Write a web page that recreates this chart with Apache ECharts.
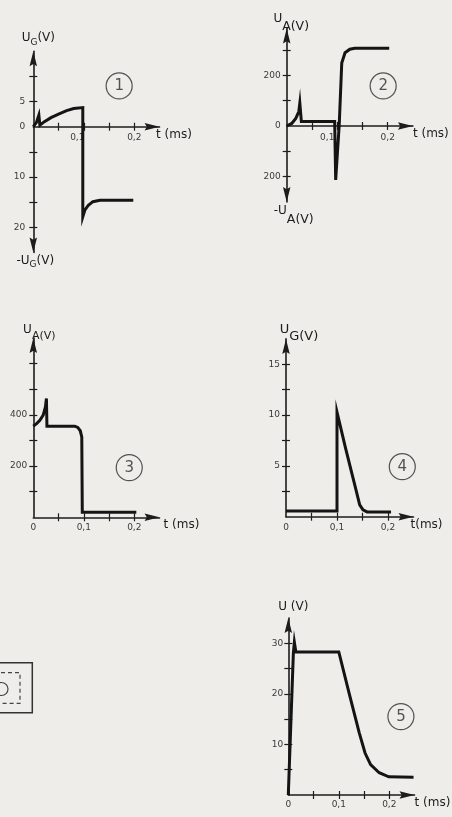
<!DOCTYPE html>
<html><head><meta charset="utf-8">
<script src="https://cdn.jsdelivr.net/npm/echarts@6/dist/echarts.min.js"></script>
<style>html,body{margin:0;padding:0;background:#eeede9;}#c{width:452px;height:817px;}</style>
</head><body><div id="c"></div><script>
// ---- data (time in ms, voltage in V) ----
const plot1Time = [0, 0.006, 0.011, 0.013, 0.022, 0.035, 0.05, 0.066, 0.08, 0.098, 0.098, 0.102, 0.109, 0.118, 0.132, 0.198];
const plot1Volt = [0, 0.8, 2.3, 0.3, 1.0, 1.8, 2.5, 3.2, 3.6, 3.8, -17.9, -16.6, -15.6, -14.9, -14.6, -14.6];
const plot2Time = [0, 0.01, 0.018, 0.024, 0.026, 0.029, 0.095, 0.097, 0.099, 0.104, 0.109, 0.1155, 0.125, 0.135, 0.203];
const plot2Volt = [0, 10, 30, 57, 90, 18, 18, -213, -213, 4, 248, 289, 303, 307, 307];
const plot3Time = [0, 0.0065, 0.013, 0.0196, 0.024, 0.026, 0.027, 0.082, 0.088, 0.093, 0.096, 0.097, 0.204];
const plot3Volt = [356, 366, 379, 399, 431, 464, 356, 356, 351, 338, 314, 19.5, 19.5];
const plot4Time = [0, 0.1, 0.1, 0.117, 0.137, 0.1445, 0.151, 0.159, 0.206];
const plot4Volt = [0.55, 0.55, 10.3, 6.7, 2.7, 1.17, 0.67, 0.47, 0.47];
const plot5Time = [0, 0.01, 0.012, 0.015, 0.1, 0.121, 0.1405, 0.152, 0.163, 0.18, 0.199, 0.248];
const plot5Volt = [0, 28, 30.2, 28.3, 28.3, 19.9, 12.3, 8.3, 6.0, 4.4, 3.6, 3.5];

const timeTicks = [0.05, 0.1, 0.15, 0.2];
const timeLabelsTop = [0.1, 0.2];
const timeLabelsBottom = [0, 0.1, 0.2];
const plot1YTicks = [-20, -15, -10, -5, 5, 10];
const plot1YLabels = [5, 0, -10, -20];
const plot2YTicks = [-200, -100, 100, 200, 300];
const plot2YLabels = [200, 0, -200];
const plot3YTicks = [100, 200, 300, 400, 500, 600];
const plot3YLabels = [200, 400];
const plot4YTicks = [2.5, 5, 7.5, 10, 12.5, 15];
const plot4YLabels = [5, 10, 15];
const plot5YTicks = [5, 10, 15, 20, 25, 30];
const plot5YLabels = [10, 20, 30];

const circleLabels = ['1', '2', '3', '4', '5'];
const circleTime = [0.17, 0.191, 0.19, 0.228, 0.223];
const circleVolt = [8.1, 158, 194, 4.92, 15.5];

// ---- layout ----
const INK = '#1c1c1c';
const FONT = 'DejaVu Sans';
const ARROW = 'path://M5,0 L10,20 L5,17 L0,20 Z';
const plots = [
  { time: plot1Time, volt: plot1Volt, yTicks: plot1YTicks, yLabels: plot1YLabels, xLabels: timeLabelsTop,
    grid: { left: 33.3, top: 51.2, width: 126.25, height: 201.3 }, yMin: -25, yMax: 15, yInt: 5, both: true,
    yLabM: 8, xLabM: 6.5, tGap: -3.5, uSize: 12, sSize: 9, sPad: 6, firstShift: 13,
    topName: '{u|U}{s|G}{u|(V)}', topGap: 5, topPad: 10,
    botName: '{u|-U}{s|G}{u|(V)}', botGap: 2, botPad: 4 },
  { time: plot2Time, volt: plot2Volt, yTicks: plot2YTicks, yLabels: plot2YLabels, xLabels: timeLabelsTop,
    grid: { left: 286.7, top: 28.4, width: 126.25, height: 173.6 }, yMin: -300, yMax: 385, yInt: 100, both: true,
    yLabM: 6, xLabM: 7, tGap: 0, uSize: 12, sSize: 12.5, sPad: 8, firstShift: 20,
    topName: '{u|U}{s|A(V)}', topGap: 2, topPad: 9,
    botName: '{u|-U}{s|A(V)}', botGap: 3, botPad: 14 },
  { time: plot3Time, volt: plot3Volt, yTicks: plot3YTicks, yLabels: plot3YLabels, xLabels: timeLabelsBottom,
    grid: { left: 33.3, top: 338.1, width: 126.25, height: 179.2 }, yMin: 0, yMax: 700, yInt: 100, both: false,
    yLabM: 6, xLabM: 6, tGap: 4, uSize: 12, sSize: 11, sPad: 7, firstShift: 0,
    topName: '{u|U}{s|A(V)}', topGap: 0, topPad: 12 },
  { time: plot4Time, volt: plot4Volt, yTicks: plot4YTicks, yLabels: plot4YLabels, xLabels: timeLabelsBottom,
    grid: { left: 286, top: 338.9, width: 127.5, height: 177.8 }, yMin: 0, yMax: 17.5, yInt: 2.5, both: false,
    yLabM: 6, xLabM: 6.5, tGap: -3, tName: 't(ms)', uSize: 13, sSize: 13, sPad: 7, firstShift: 0,
    topName: '{u|U}{s|G(V)}', topGap: 1, topPad: 26 },
  { time: plot5Time, volt: plot5Volt, yTicks: plot5YTicks, yLabels: plot5YLabels, xLabels: timeLabelsBottom,
    grid: { left: 288.3, top: 618, width: 126.25, height: 177 }, yMin: 0, yMax: 35, yInt: 5, both: false,
    yLabM: 5, xLabM: 5, tGap: 0, uSize: 12, sSize: 11, sPad: 6, firstShift: 0,
    topName: '{u|U (V)}', topGap: 3, topPad: 10 }
];

function makeRich(p) {
  return {
    u: { fontSize: p.uSize, lineHeight: p.uSize + 2, verticalAlign: 'top', fontFamily: FONT, color: INK },
    s: { fontSize: p.sSize, lineHeight: p.sSize + 1, verticalAlign: 'top', padding: [p.sPad, 0, 0, 0], fontFamily: FONT, color: INK }
  };
}

const fmtNum = v => v === 0 ? '0' : v.toFixed(1).replace('.', ',');
const grids = [], xAxes = [], yAxes = [], series = [];
const lineStyleAxis = { color: INK, width: 1.6 };
const tickStyle = { color: INK, width: 1.2 };
const labelStyle = { fontSize: 9, color: '#3a3a3a', fontFamily: FONT };

plots.forEach((p, i) => {
  grids.push(Object.assign({ containLabel: false }, p.grid));
  const rich = makeRich(p);
  // x labels sit on the zero line: shift them up from the grid's bottom edge
  const zeroFromBottom = p.grid.height * (0 - p.yMin) / (p.yMax - p.yMin);
  const xBase = {
    type: 'value', gridIndex: i, min: 0, max: 0.25, interval: 0.05, position: 'bottom',
    splitLine: { show: false }
  };
  xAxes.push(Object.assign({}, xBase, {
    axisLine: { show: true, onZero: true, lineStyle: lineStyleAxis, symbol: ['none', ARROW], symbolSize: [8, 15], symbolOffset: [0, -7.5] },
    axisTick: { show: true, inside: false, length: 4, lineStyle: tickStyle, customValues: timeTicks },
    axisLabel: Object.assign({ show: true, margin: p.xLabM - zeroFromBottom, customValues: p.xLabels,
      formatter: v => (Math.abs(v - 0.1) < 1e-9 && p.firstShift) ? '{l|' + fmtNum(v) + '}' : fmtNum(v),
      rich: { l: Object.assign({ padding: [0, p.firstShift, 0, 0] }, labelStyle) } }, labelStyle),
    name: p.tName || 't (ms)', nameLocation: 'end', nameGap: p.tGap,
    nameTextStyle: { fontSize: 12, color: INK, fontFamily: FONT, align: 'left', verticalAlign: 'top', padding: [2, 0, 0, 0] }
  }));
  xAxes.push(Object.assign({}, xBase, {
    axisLine: { show: false, onZero: true },
    axisTick: { show: true, inside: true, length: 4, lineStyle: tickStyle, customValues: timeTicks },
    axisLabel: { show: false }
  }));
  const yBase = {
    type: 'value', gridIndex: i, min: p.yMin, max: p.yMax, interval: p.yInt, position: 'left',
    splitLine: { show: false }
  };
  const tipOff = p.both ? [7.5, -7.5] : [0, -7.5];
  yAxes.push(Object.assign({}, yBase, {
    axisLine: { show: true, onZero: true, lineStyle: lineStyleAxis, symbol: [p.both ? ARROW : 'none', ARROW], symbolSize: [8, 15], symbolOffset: tipOff },
    axisTick: { show: true, inside: false, length: 4, lineStyle: tickStyle, customValues: p.yTicks },
    axisLabel: Object.assign({ show: true, margin: p.yLabM, customValues: p.yLabels, formatter: v => String(Math.abs(v)) }, labelStyle),
    name: p.topName, nameLocation: 'end', nameGap: p.topGap,
    nameTextStyle: { rich: rich, align: 'center', verticalAlign: 'bottom', padding: [0, 0, 0, p.topPad] }
  }));
  yAxes.push(Object.assign({}, yBase, {
    axisLine: { show: false, onZero: true },
    axisTick: { show: true, inside: true, length: 4, lineStyle: tickStyle, customValues: p.yTicks },
    axisLabel: { show: false },
    name: p.botName || '', nameLocation: 'start', nameGap: p.botGap || 0,
    nameTextStyle: { rich: rich, align: 'center', verticalAlign: 'top', padding: [0, 0, 0, p.botPad || 0] }
  }));
  series.push({
    type: 'line', xAxisIndex: 2 * i, yAxisIndex: 2 * i, showSymbol: false, symbol: 'none', smooth: false,
    data: p.time.map((t, k) => [t, p.volt[k]]),
    lineStyle: { color: '#141414', width: 3, join: 'miter', cap: 'butt' }, z: 3, silent: true
  });
  series.push({
    type: 'scatter', xAxisIndex: 2 * i, yAxisIndex: 2 * i, symbol: 'circle', symbolSize: 26,
    data: [[circleTime[i], circleVolt[i], circleLabels[i]]],
    itemStyle: { color: 'rgba(0,0,0,0)', borderColor: '#2a2a2a', borderWidth: 1.2 },
    label: { show: true, position: 'inside', formatter: q => q.data[2], fontSize: 15, color: '#2a2a2a', fontFamily: FONT },
    silent: true, z: 4
  });
});

const chart = echarts.init(document.getElementById('c'), null, { renderer: 'canvas' });
chart.setOption({
  backgroundColor: '#eeede9',
  animation: false,
  grid: grids, xAxis: xAxes, yAxis: yAxes, series: series,
  graphic: [
    { type: 'rect', shape: { x: -20, y: 662.7, width: 52.3, height: 50 }, style: { fill: null, stroke: '#333', lineWidth: 1.5 } },
    { type: 'rect', shape: { x: -20, y: 672.7, width: 40, height: 30.6 }, style: { fill: null, stroke: '#444', lineWidth: 1.2, lineDash: [4, 3] } },
    { type: 'circle', shape: { cx: 1.5, cy: 689, r: 6.5 }, style: { fill: null, stroke: '#444', lineWidth: 1.2 } }
  ]
});
</script></body></html>
